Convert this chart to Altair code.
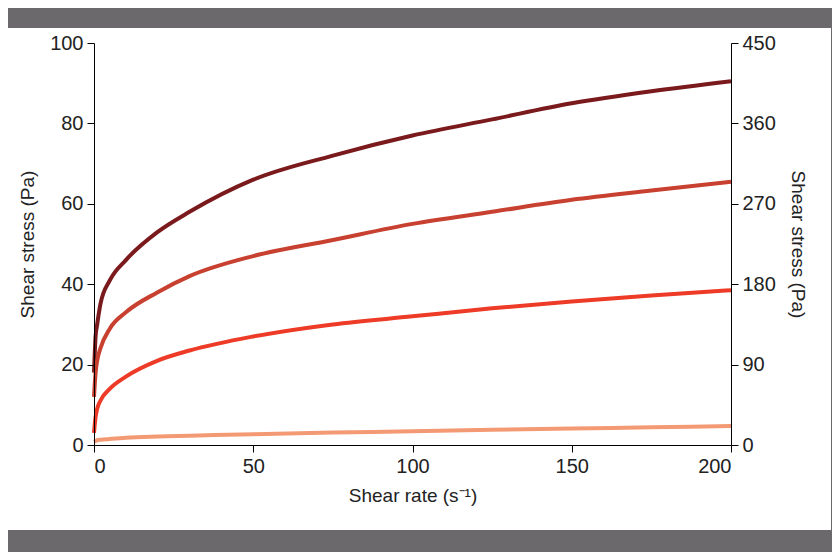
import altair as alt
import pandas as pd

rate = [0, 0.5, 1, 2, 5, 10, 20, 30, 50, 75, 100, 125, 150, 175, 200]
s1 = [18, 27, 30, 35, 41, 46, 53, 58, 66, 72, 77, 81, 85, 88, 90.5]
s2 = [12, 18, 21, 24, 29, 33, 38, 42, 47, 51, 55, 58, 61, 63.3, 65.5]
s3 = [3, 7, 9, 11, 14, 17, 21, 23.5, 27, 30, 32, 34, 35.7, 37.2, 38.5]
s4 = [0.8, 1.0, 1.2, 1.3, 1.5, 1.8, 2.1, 2.3, 2.7, 3.1, 3.4, 3.8, 4.1, 4.4, 4.7]

FARGER = ["#7a1a1c", "#c8402f", "#ee3b27", "#f39a74"]
FONT = "Liberation Sans"

rows = []
for name, vals in zip(["a", "b", "c", "d"], [s1, s2, s3, s4]):
    for x, y in zip(rate, vals):
        rows.append({"rate": x, "stress": y, "serie": name})
df = pd.DataFrame(rows)

panel = alt.Chart(pd.DataFrame({"k": [0]})).mark_rect(color="white").encode(
    x=alt.value(-86), x2=alt.value(737), y=alt.value(-15), y2=alt.value(487)
)

lines = alt.Chart(df).mark_line(strokeWidth=4, interpolate="monotone").encode(
    x=alt.X("rate:Q", scale=alt.Scale(domain=[0, 200], nice=False),
            title="Shear rate (s⁻¹)",
            axis=alt.Axis(values=[0, 50, 100, 150, 200], grid=False, zindex=2)),
    y=alt.Y("stress:Q", scale=alt.Scale(domain=[0, 100], nice=False),
            title="Shear stress (Pa)",
            axis=alt.Axis(values=[0, 20, 40, 60, 80, 100], grid=False, zindex=2)),
    color=alt.Color("serie:N", scale=alt.Scale(domain=["a", "b", "c", "d"], range=FARGER),
                    legend=None),
)

right_df = pd.DataFrame({"v": [0, 450]})
right = alt.Chart(right_df).mark_point(opacity=0).encode(
    y=alt.Y("v:Q", scale=alt.Scale(domain=[0, 450], nice=False),
            title="Shear stress (Pa)",
            axis=alt.Axis(orient="right", values=[0, 90, 180, 270, 360, 450],
                          grid=False, zindex=2)),
)

chart = (
    alt.layer(panel, lines, right)
    .resolve_scale(y="independent")
    .properties(width=637, height=402,
                autosize=alt.AutoSizeParams(type="none"),
                padding={"left": 86, "top": 35, "right": 101, "bottom": 107},
                background="#6b696c")
    .configure_view(stroke=None)
    .configure_axis(domainColor="black", tickColor="black", tickSize=7,
                    labelFont=FONT, labelFontSize=20, labelColor="#222",
                    titleFont=FONT, titleFontSize=19, titleFontWeight="normal",
                    titleColor="#222", labelPadding=4)
    .configure_axisX(titlePadding=10)
    .configure_axisY(titlePadding=12)
)

chart.save("out.html", embed_options={"renderer": "svg", "actions": False})
